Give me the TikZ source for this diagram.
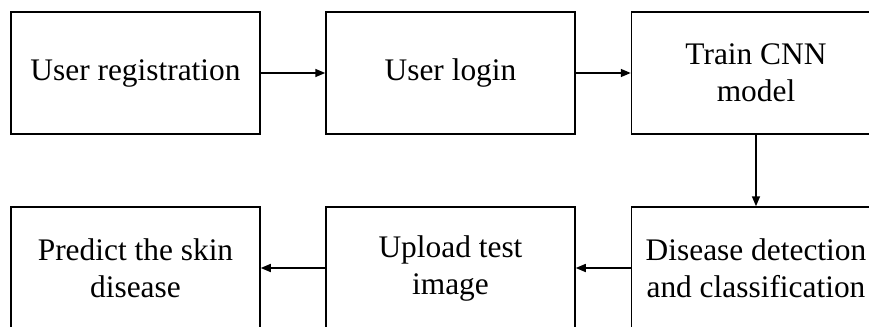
\documentclass[tikz,border=0pt]{standalone}
\usepackage{fontspec}
\setmainfont{Liberation Serif}
\usetikzlibrary{arrows.meta}

\begin{document}
\begin{tikzpicture}[x=0.5pt, y=-0.5pt,
        stagebox/.style={draw, line width=0.75pt, minimum width=124.5pt, minimum height=61pt,
            inner sep=0pt, align=center, font=\fontsize{15.7}{18.5}\selectfont},
        flowarrow/.style={line width=0.75pt, -{Triangle[length=5pt, width=4pt]}}]
        % Fix the page size, the right and bottom boxes run over the edge
        \useasboundingbox (0,0) rectangle (869,327);
        \clip (0,0) rectangle (869,327);

        % Top row
        \node[stagebox] (reg) at (135.5,73) {User registration};
        \node[stagebox] (login) at (450.5,73) {User login};
        \node[stagebox] (train) at (756,73) {Train CNN\\model};

        % Bottom row
        \node[stagebox] (predict) at (135.5,268) {Predict the skin\\disease};
        \node[stagebox] (upload) at (450.5,268) {Upload test\\image};
        \node[stagebox] (detect) at (756,268) {Disease detection\\and classification};

        % Arrows between the steps
        \draw[flowarrow] (reg) -- (login);
        \draw[flowarrow] (login) -- (train);
        \draw[flowarrow] (train) -- (detect);
        \draw[flowarrow] (detect) -- (upload);
        \draw[flowarrow] (upload) -- (predict);
    \end{tikzpicture}
\end{document}
